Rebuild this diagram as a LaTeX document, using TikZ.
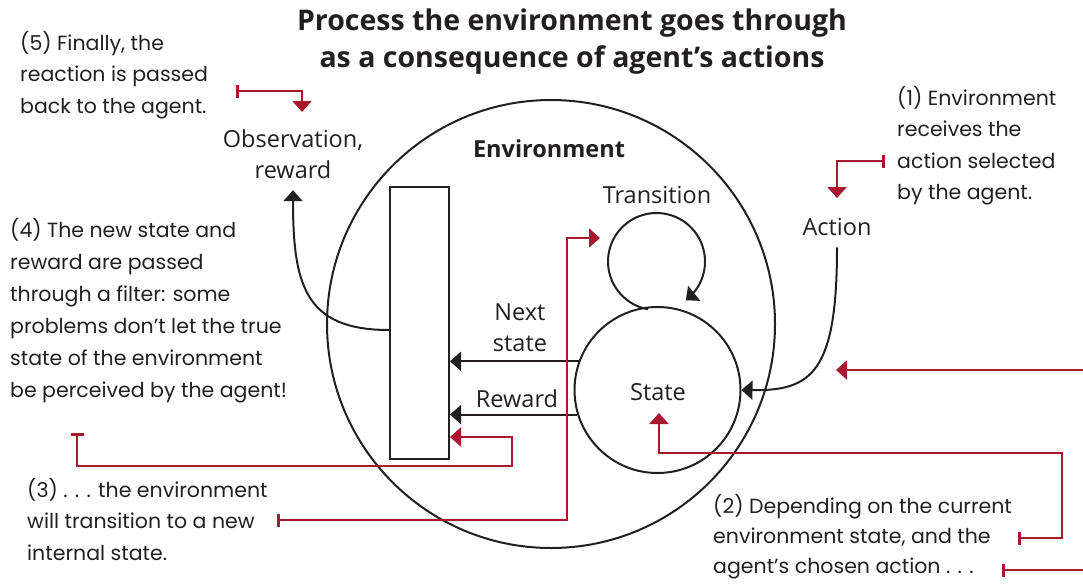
\documentclass[tikz,border=0pt]{standalone}
\usepackage{fontspec}
\setmainfont{Open Sans}
\newfontfamily\hand{Poppins}
\usetikzlibrary{arrows.meta,calc}
\definecolor{rd}{RGB}{166,25,46}
\definecolor{ink}{RGB}{35,31,32}
\begin{document}
\begin{tikzpicture}[x=1pt,y=-1pt,
  blk/.style={draw=ink, line width=2pt},
  blkarrow/.style={blk, -{Triangle[length=11pt,width=19pt]}},
  redline/.style={draw=rd, line width=2.6pt},
  redarrow/.style={redline, {Bar[width=13pt]}-{Triangle[length=11pt,width=19pt]}},
  lbl/.style={font=\fontsize{23.5}{31.5}\selectfont, text=ink, inner sep=0pt, anchor=base},
  note/.style={font=\hand\fontsize{20.5}{31.5}\selectfont, text=ink, inner sep=0pt, anchor=base west},
  ttl/.style={font=\bfseries\fontsize{28.5}{37}\selectfont, text=ink, inner sep=0pt, anchor=base}]
\useasboundingbox (0,0) rectangle (1083,587);

% title
\node[ttl] (title) at (572,30) {\begin{tabular}[t]{@{}c@{}}Process the environment goes through\\as a consequence of agent’s actions\end{tabular}};

% environment
\node[blk, circle, minimum size=448pt, inner sep=0pt] (env) at (551,324) {};
\node[font=\bfseries\fontsize{23.5}{28}\selectfont, text=ink, inner sep=0pt, anchor=base] (envlbl) at (549,157) {Environment};

% filter
\node[blk, rectangle, minimum width=59pt, minimum height=272pt, inner sep=0pt] (filter) at (419.5,323) {};

% state
\node[blk, circle, minimum size=166pt, inner sep=0pt] (state) at (657.5,390) {};
\node[lbl] (statelbl) at (658,400) {State};

% labels
\node[lbl] (trans) at (657,203) {Transition};
\node[lbl] (next) at (520,320) {\begin{tabular}[t]{@{}c@{}}Next\\state\end{tabular}};
\node[lbl] (rew) at (517,407) {Reward};
\node[lbl] (action) at (837,235) {Action};
\node[lbl] (obs) at (293,147) {\begin{tabular}[t]{@{}c@{}}Observation,\\reward\end{tabular}};

% transition loop
\coordinate (loopc) at (656.5,261.5);
\draw[blkarrow, shift={(loopc)}] plot[domain=100:413, samples=80] ({48.5*cos(\x)},{48.5*sin(\x)});

% black connectors
\draw[blkarrow] (state.160) -- (state.160 -| filter.east);
\draw[blkarrow] (state.197.5) -- (state.197.5 -| filter.east);
\draw[blkarrow] ($(action.south)+(0,12)$) .. controls (837,372) and (812,391) .. (state.east);
\draw[blkarrow] ($(filter.west)+(0,7)$) .. controls (305,330) and (293,285) .. ($(obs.south)+(0,2)$);

% notes
\node[note] (n5) at (20,50) {\begin{tabular}[t]{@{}l@{}}(5) Finally, the\\reaction is passed\\back to the agent.\end{tabular}};
\node[note] (n1) at (897,105) {\begin{tabular}[t]{@{}l@{}}(1) Environment\\receives the\\action selected\\by the agent.\end{tabular}};
\node[note, font=\hand\fontsize{20.5}{32}\selectfont] (n4) at (10,237) {\begin{tabular}[t]{@{}l@{}}(4) The new state and\\reward are passed\\through a filter: some\\problems don’t let the true\\state of the environment\\be perceived by the agent!\end{tabular}};
\node[note] (n3) at (27,497) {\begin{tabular}[t]{@{}l@{}}(3) . . . the environment\\will transition to a new\\internal state.\end{tabular}};
\node[note, font=\hand\fontsize{20.5}{30}\selectfont] (n2) at (713,513) {\begin{tabular}[t]{@{}l@{}}(2) Depending on the current\\environment state, and the\\agent’s chosen action . . .\end{tabular}};

% red connectors
\coordinate (r5) at (236,91);
\coordinate (r5tip) at (302,112);
\draw[redarrow] (r5) -| (r5tip);

\coordinate (r1) at (885,161);
\coordinate (r1tip) at (837,198);
\draw[redarrow] (r1) -| (r1tip);

\coordinate (r3a) at (77,433);
\draw[redarrow] (r3a) |- (512,466) -- (512,437) -- (filter.east |- 512,437);

\coordinate (r3b) at (277,520);
\draw[redarrow] (r3b) -| (567,238) -- (600,238);

\coordinate (r2) at (1018,538);
\draw[redarrow] (r2) -| (1062,453) -| (659,413);

\coordinate (rR) at (1083,370);
\draw[redline, -{Triangle[length=11pt,width=19pt]}] (rR) -- (836,370);

\coordinate (r2b) at (1002,570);
\coordinate (rB) at (1083,570);
\draw[redline, {Bar[width=13pt]}-] (r2b) -- (rB);
\end{tikzpicture}
\end{document}
